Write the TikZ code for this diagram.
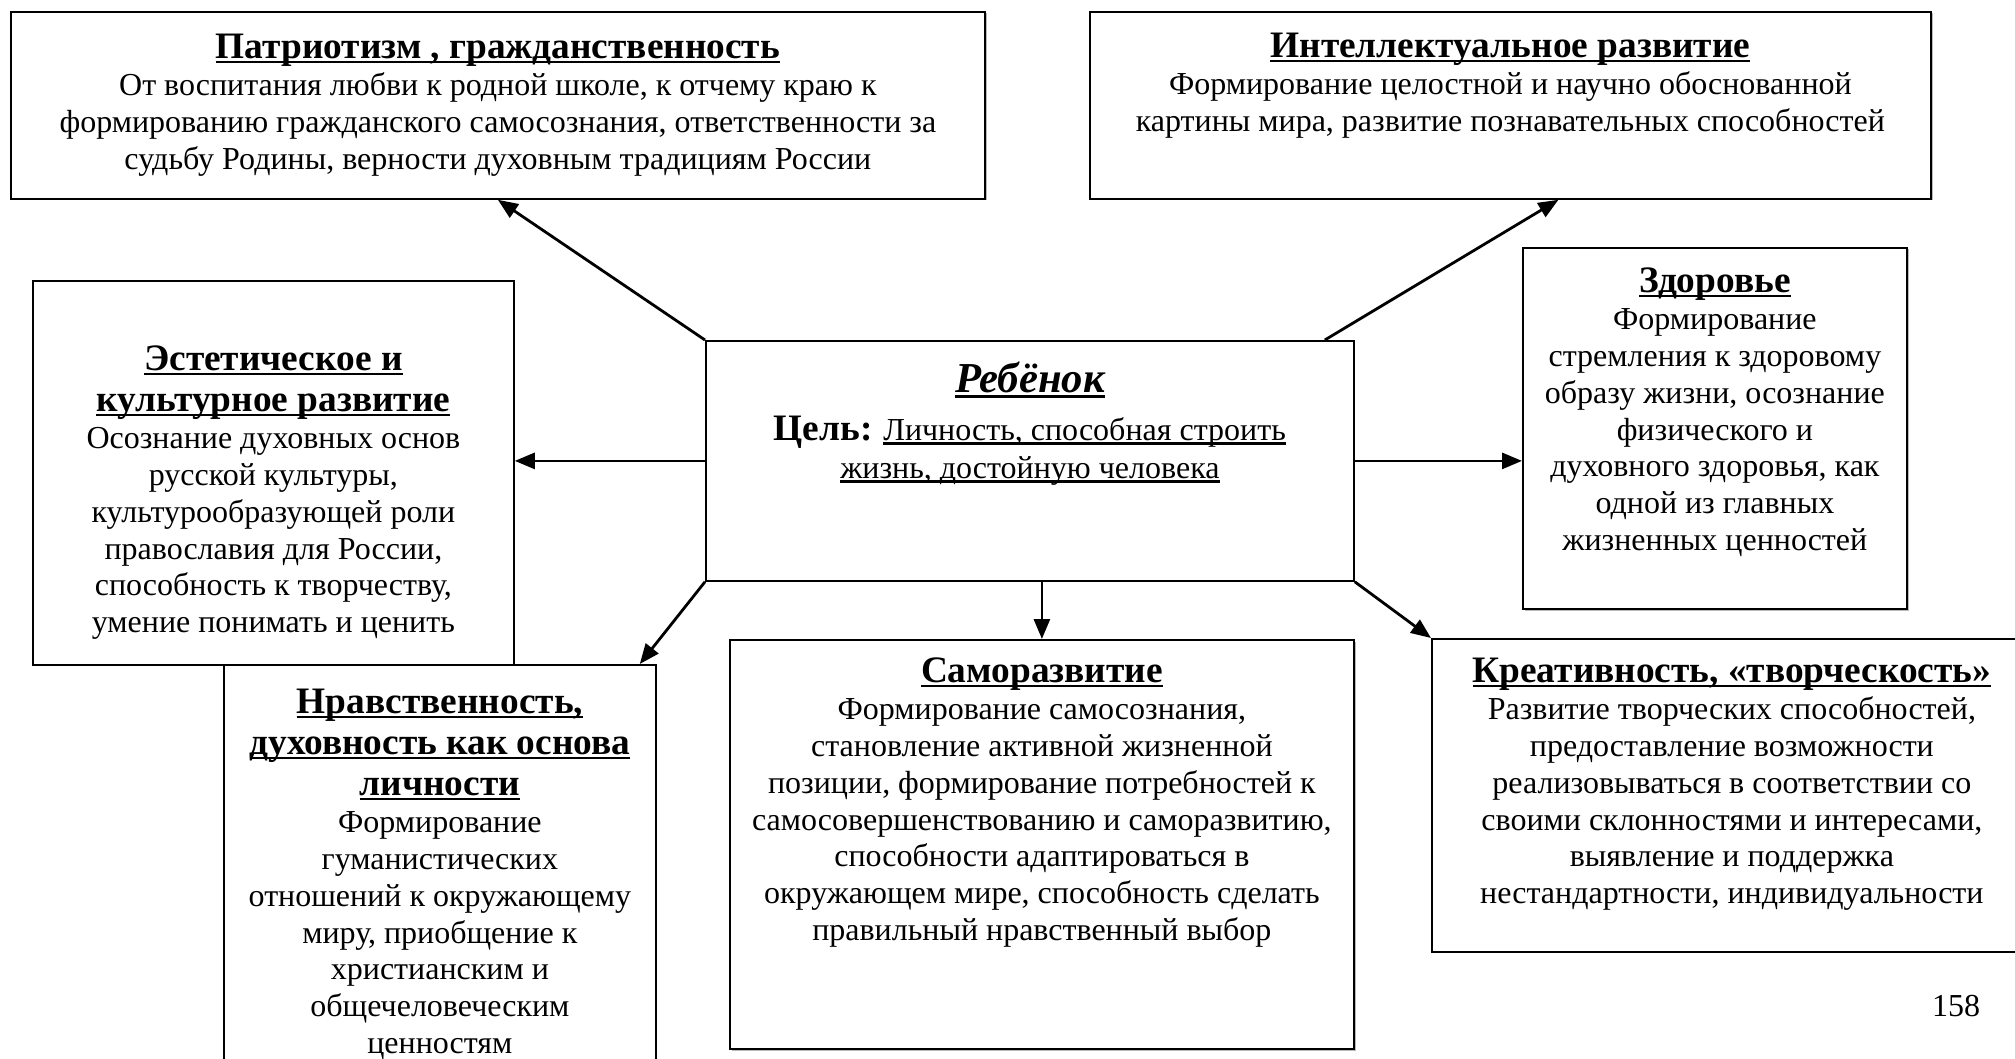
\documentclass[tikz,border=0pt]{standalone}
\usepackage{fontspec}
\setmainfont{Liberation Serif}
\usepackage{tikz}
\usetikzlibrary{arrows.meta,shadows}

\newcommand{\zag}{\fontsize{18.67}{20.5}\selectfont\bfseries}
\newcommand{\tekst}{\fontsize{16}{18.4}\selectfont}
\newcommand{\ul}[1]{\leavevmode\setbox0=\hbox{#1}\rlap{\rule[-0.12em]{\wd0}{0.075em}}\box0}
\newcommand{\blok}[4]{\parbox[c][#2][t]{#1}{\centering\rule{0pt}{#3}#4}}

\begin{document}
\begin{tikzpicture}[x=0.5pt,y=-0.5pt,
  blk/.style={draw, fill=white, line width=0.9pt, inner sep=0pt, anchor=north west},
  ten/.style={drop shadow={shadow xshift=0.8pt, shadow yshift=-0.8pt, fill=black!55}},
  strl/.style={line width=1.4pt, -{Triangle[length=10pt,width=8pt]}}]
\useasboundingbox (0,0) rectangle (2015,1059);

\node[blk,ten] (pat) at (10,11) {\blok{487pt}{93.5pt}{23.5pt}{{\zag\ul{Патриотизм , гражданственность}\par}
{\tekst От воспитания любви к родной школе, к отчему краю к\\
формированию гражданского самосознания, ответственности за\\
судьбу Родины, верности духовным традициям России\par}}};

\node[blk,ten] (intel) at (1089,11) {\blok{420.5pt}{93.5pt}{23pt}{{\zag\ul{Интеллектуальное развитие}\par}
{\tekst Формирование целостной и научно обоснованной\\
картины мира, развитие познавательных способностей\par}}};

\node[blk] (est) at (32,280) {\blok{240.5pt}{192pt}{45pt}{{\zag\ul{Эстетическое и}\\\ul{культурное развитие}\par}
{\tekst Осознание духовных основ\\
русской культуры,\\
культурообразующей роли\\
православия для России,\\
способность к творчеству,\\
умение понимать и ценить\par}}};

\node[blk] (ctr) at (705,340) {\blok{324pt}{120pt}{26pt}{{\fontsize{21.33}{24}\selectfont\bfseries\itshape\ul{Ребёнок}\par}
{\fontsize{16}{24}\selectfont{\fontsize{18.67}{24}\selectfont\bfseries Цель:} \ul{Личность, способная строить}\par}
{\fontsize{16}{19}\selectfont\ul{жизнь, достойную человека}\par}}};

\node[blk,ten] (zdr) at (1522,247) {\blok{192pt}{180.5pt}{22.5pt}{{\zag\ul{Здоровье}\par}
{\tekst Формирование\\
стремления к здоровому\\
образу жизни, осознание\\
физического и\\
духовного здоровья, как\\
одной из главных\\
жизненных ценностей\par}}};

\node[blk] (nrav) at (223,664) {\blok{216pt}{208pt}{24.5pt}{{\zag\ul{Нравственность,}\\\ul{духовность как основа}\\\ul{личности}\par}
{\tekst Формирование\\
гуманистических\\
отношений к окружающему\\
миру, приобщение к\\
христианским и\\
общечеловеческим\\
ценностям\par}}};

\node[blk,ten] (samo) at (729,639) {\blok{312pt}{204.5pt}{21.5pt}{{\zag\ul{Саморазвитие}\par}
{\tekst Формирование самосознания,\\
становление активной жизненной\\
позиции, формирование потребностей к\\
самосовершенствованию и саморазвитию,\\
способности адаптироваться в\\
окружающем мире, способность сделать\\
правильный нравственный выбор\par}}};

\node[blk] (kre) at (1431,638) {\blok{300pt}{156.5pt}{22pt}{{\zag\ul{Креативность, «творческость»}\par}
{\tekst Развитие творческих способностей,\\
предоставление возможности\\
реализовываться в соответствии со\\
своими склонностями и интересами,\\
выявление и поддержка\\
нестандартности, индивидуальности\par}}};

\node (nomer) at (1956,1006) {\tekst 158};

\draw[strl] (ctr.north west) -- (pat.south);
\draw[strl] ([xshift=-15pt]ctr.north east) -- ([xshift=24pt]intel.south);
\draw[strl] (ctr.west) -- (ctr.west -| est.east);
\draw[strl] (ctr.east) -- (ctr.east -| zdr.west);
\draw[strl] (ctr.south west) -- ([xshift=-8.5pt]nrav.north east);
\draw[strl] (ctr.south -| samo.north) -- (samo.north);
\draw[strl] (ctr.south east) -- (kre.north west);

\end{tikzpicture}
\end{document}
